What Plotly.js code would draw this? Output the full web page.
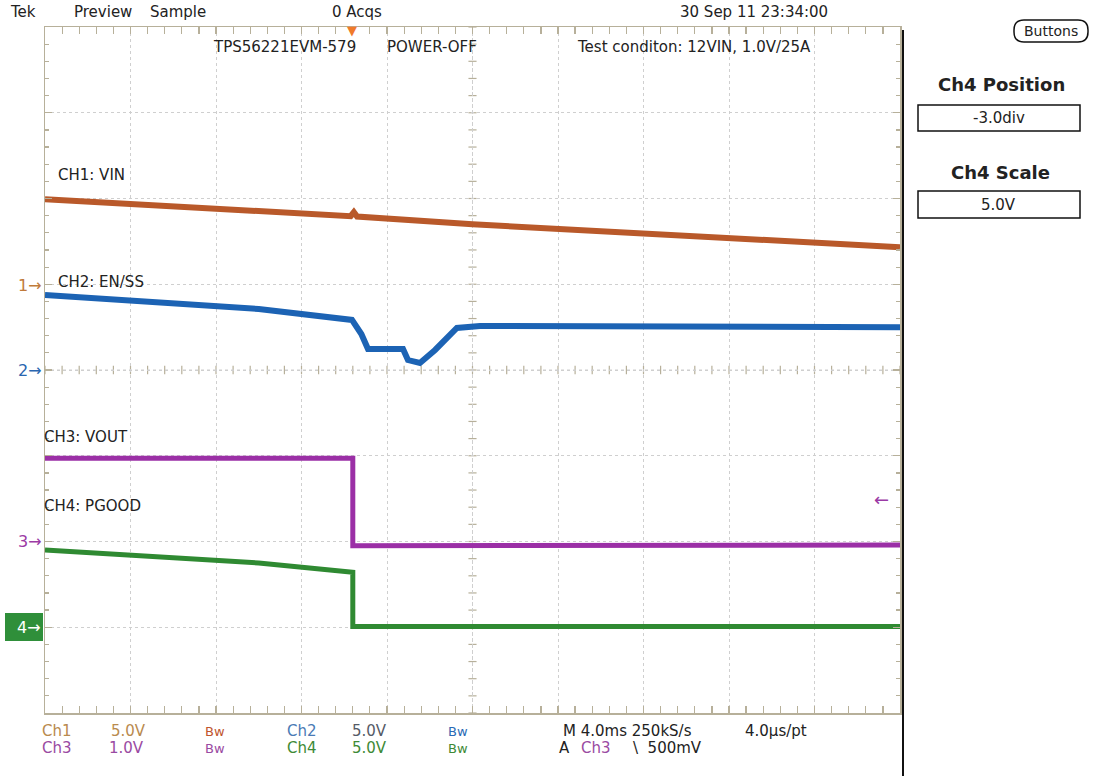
<!DOCTYPE html>
<html><head><meta charset="utf-8">
<script src="https://cdn.plot.ly/plotly-3.0.1.min.js"></script>
<style>html,body{margin:0;padding:0;background:#fff}#chart{width:1094px;height:776px}</style>
</head><body><div id="chart"></div>
<script>
// ---- data (time in ms, 4 ms/div; volts per channel) ----
const ch1Time  = [-20, -15, -10, -5.7, -5.55, -5.4, 0, 5, 10, 15, 20];
const ch1Volts = [4.95, 4.6, 4.26, 3.97, 4.2, 3.95, 3.5, 3.15, 2.86, 2.5, 2.16];

const ch2Time  = [-20, -15, -10, -5.64, -5.2, -4.89, -3.25, -3.02, -2.46, -1.75, -0.73, 0.35, 5, 10, 15, 20];
const ch2Volts = [4.37, 3.95, 3.56, 2.92, 2.1, 1.22, 1.22, 0.58, 0.41, 1.17, 2.45, 2.57, 2.55, 2.52, 2.5, 2.5];

const ch3Time  = [-20, -5.6, -5.6, 20];
const ch3Volts = [0.97, 0.97, -0.05, -0.04];

const ch4Time  = [-20, -15, -10, -5.6, -5.6, 20];
const ch4Volts = [4.5, 4.15, 3.75, 3.2, 0.05, 0.05];

const channelNames     = ['CH1: VIN', 'CH2: EN/SS', 'CH3: VOUT', 'CH4: PGOOD'];
const channelScales    = [5, 5, 1, 5];      // V/div
const channelPositions = [1, 0, -2, -3];    // div
const channelColors    = ['#b9592a', '#1c63b4', '#9b2fa6', '#2f8a32'];
const channelWidths    = [6, 6, 5, 5];

// ---- geometry helpers (pixel -> paper) ----
const L = 45, R = 900, T = 27, B = 713;
const px = x => (x - L) / (R - L);
const py = y => (B - y) / (B - T);
const FONT = 'DejaVu Sans, Liberation Sans, sans-serif';
const BORDER = '#b7b09a';

function chRange(i) {
  return [(-4 - channelPositions[i]) * channelScales[i], (4 - channelPositions[i]) * channelScales[i]];
}

const traces = [
  {x: ch1Time, y: ch1Volts, yaxis: 'y2', name: 'Ch1'},
  {x: ch2Time, y: ch2Volts, yaxis: 'y3', name: 'Ch2'},
  {x: ch3Time, y: ch3Volts, yaxis: 'y4', name: 'Ch3'},
  {x: ch4Time, y: ch4Volts, yaxis: 'y5', name: 'Ch4'}
].map((t, i) => Object.assign(t, {
  type: 'scatter', mode: 'lines', hoverinfo: 'skip',
  line: {color: channelColors[i], width: channelWidths[i]}
}));

function txt(text, x, y, o) {
  o = o || {};
  return {xref: 'paper', yref: 'paper', x: px(x), y: py(y), text: text, showarrow: false,
    xanchor: o.xa || 'center', yanchor: 'middle',
    font: {family: o.family || FONT, size: o.size || 15, color: o.color || '#222'}};
}

const annotations = [
  txt('Tek', 23, 12), txt('Preview', 103, 12), txt('Sample', 178, 12),
  txt('0 Acqs', 357, 12), txt('30 Sep 11 23:34:00', 754, 12),
  txt('TPS56221EVM-579', 284, 47), txt('POWER-OFF', 432, 47),
  txt('Test conditon: 12VIN, 1.0V/25A', 694, 47),
  txt(channelNames[0], 91, 175), txt(channelNames[1], 101, 282),
  txt(channelNames[2], 86, 437), txt(channelNames[3], 92, 506),
  txt('1→', 44, 285, {xa: 'right', color: '#c07a3a', size: 16}),
  txt('2→', 44, 370, {xa: 'right', color: '#2a66b0', size: 16}),
  txt('3→', 44, 541, {xa: 'right', color: '#9b3aa5', size: 16}),
  txt('4→', 43, 627, {xa: 'right', color: '#ffffff', size: 16}),
  txt('←', 891, 500, {xa: 'right', color: '#9b3aa5', size: 18}),
  txt('▼', 352, 31, {color: '#f07a2a', size: 13}),
  // bottom status
  txt('Ch1', 57, 731, {color: '#b98a4e'}), txt('5.0V', 128, 731, {color: '#b98a4e'}),
  txt('Bw', 215, 731, {color: '#c0552e', size: 13}),
  txt('Ch2', 302, 731, {color: '#4a7ab5'}), txt('5.0V', 369, 731, {color: '#555a66'}),
  txt('Bw', 458, 731, {color: '#2a6ab5', size: 13}),
  txt('M 4.0ms 250kS/s', 627, 731), txt('4.0µs/pt', 776, 731),
  txt('Ch3', 57, 748, {color: '#9a4aa2'}), txt('1.0V', 126, 748, {color: '#9a4aa2'}),
  txt('Bw', 215, 748, {color: '#9a4aa2', size: 13}),
  txt('Ch4', 302, 748, {color: '#3e8a36'}), txt('5.0V', 369, 748, {color: '#3e8a36'}),
  txt('Bw', 458, 748, {color: '#3e8a36', size: 13}),
  txt('A', 564, 748), txt('Ch3', 596, 748, {color: '#9a4aa2'}), txt('\\  500mV', 667, 748),
  // right panel
  txt('Buttons', 1051, 31, {size: 14}),
  txt('<b>Ch4 Position</b>', 1001, 84, {size: 18}),
  txt('-3.0div', 999, 118),
  txt('<b>Ch4 Scale</b>', 1000, 172, {size: 18}),
  txt('5.0V', 999, 205)
];

const shapes = [];
// center crosshair ticks
for (let i = -25; i <= 25; i++) {
  shapes.push({type: 'line', xref: 'x', yref: 'y', x0: i * 0.8, x1: i * 0.8, y0: -0.05, y1: 0.05,
    line: {color: BORDER, width: 1.2}, layer: 'below'});
}
for (let j = -20; j <= 20; j++) {
  shapes.push({type: 'line', xref: 'x', yref: 'y', x0: -0.19, x1: 0.19, y0: j * 0.2, y1: j * 0.2,
    line: {color: BORDER, width: 1.2}, layer: 'below'});
}
shapes.push({type: 'line', xref: 'x', yref: 'y', x0: -20, x1: 20, y0: 0, y1: 0, line: {color: '#cfcfcf', width: 1, dash: 'dot'}, layer: 'below'});
shapes.push({type: 'line', xref: 'x', yref: 'y', x0: 0, x1: 0, y0: -4, y1: 4, line: {color: '#cfcfcf', width: 1, dash: 'dot'}, layer: 'below'});
// right black screen edge
shapes.push({type: 'line', xref: 'paper', yref: 'paper', x0: px(903), x1: px(903), y0: py(30), y1: py(776), line: {color: '#111', width: 2}});
// green ch4 marker box
shapes.push({type: 'rect', xref: 'paper', yref: 'paper', x0: px(5), x1: px(43), y0: py(641), y1: py(613),
  fillcolor: '#2f8f3a', line: {width: 0}, layer: 'below'});
// boxes on right panel
shapes.push({type: 'rect', xref: 'paper', yref: 'paper', x0: px(918), x1: px(1080), y0: py(131), y1: py(105), line: {color: '#111', width: 1.5}});
shapes.push({type: 'rect', xref: 'paper', yref: 'paper', x0: px(918), x1: px(1080), y0: py(218), y1: py(191), line: {color: '#111', width: 1.5}});
// rounded "Buttons" box
(function () {
  const x0 = 1014, x1 = 1088, y0 = 20, y1 = 42, r = 10;
  const P = (x, y) => px(x) + ',' + py(y);
  const path = 'M' + P(x0 + r, y0) + ' L' + P(x1 - r, y0) + ' Q' + P(x1, y0) + ' ' + P(x1, y0 + r) +
    ' L' + P(x1, y1 - r) + ' Q' + P(x1, y1) + ' ' + P(x1 - r, y1) + ' L' + P(x0 + r, y1) +
    ' Q' + P(x0, y1) + ' ' + P(x0, y1 - r) + ' L' + P(x0, y0 + r) + ' Q' + P(x0, y0) + ' ' + P(x0 + r, y0) + ' Z';
  shapes.push({type: 'path', xref: 'paper', yref: 'paper', path: path, line: {color: '#111', width: 1.5}});
})();

const axisCommon = {
  showgrid: true, gridcolor: '#cfcfcf', griddash: 'dot', gridwidth: 1, zeroline: false,
  showline: true, linecolor: BORDER, linewidth: 1.5, mirror: 'allticks',
  ticks: 'inside', ticklen: 7, tickcolor: BORDER, tickwidth: 1.2, showticklabels: false, fixedrange: true
};

const layout = {
  width: 1094, height: 776,
  margin: {l: L, r: 1094 - R, t: T, b: 776 - B},
  paper_bgcolor: '#ffffff', plot_bgcolor: '#ffffff',
  showlegend: false, hovermode: false,
  xaxis: Object.assign({}, axisCommon, {range: [-20, 20], tick0: 0, dtick: 4,
    minor: {dtick: 0.8, ticks: 'inside', ticklen: 4, tickcolor: BORDER, showgrid: false}}),
  yaxis: Object.assign({}, axisCommon, {range: [-4, 4], tick0: 0, dtick: 1,
    minor: {dtick: 0.2, ticks: 'inside', ticklen: 4, tickcolor: BORDER, showgrid: false}}),
  yaxis2: {overlaying: 'y', range: chRange(0), visible: false, fixedrange: true},
  yaxis3: {overlaying: 'y', range: chRange(1), visible: false, fixedrange: true},
  yaxis4: {overlaying: 'y', range: chRange(2), visible: false, fixedrange: true},
  yaxis5: {overlaying: 'y', range: chRange(3), visible: false, fixedrange: true},
  annotations: annotations,
  shapes: shapes
};

Plotly.newPlot('chart', traces, layout, {displayModeBar: false, staticPlot: true});
</script>
</body></html>
